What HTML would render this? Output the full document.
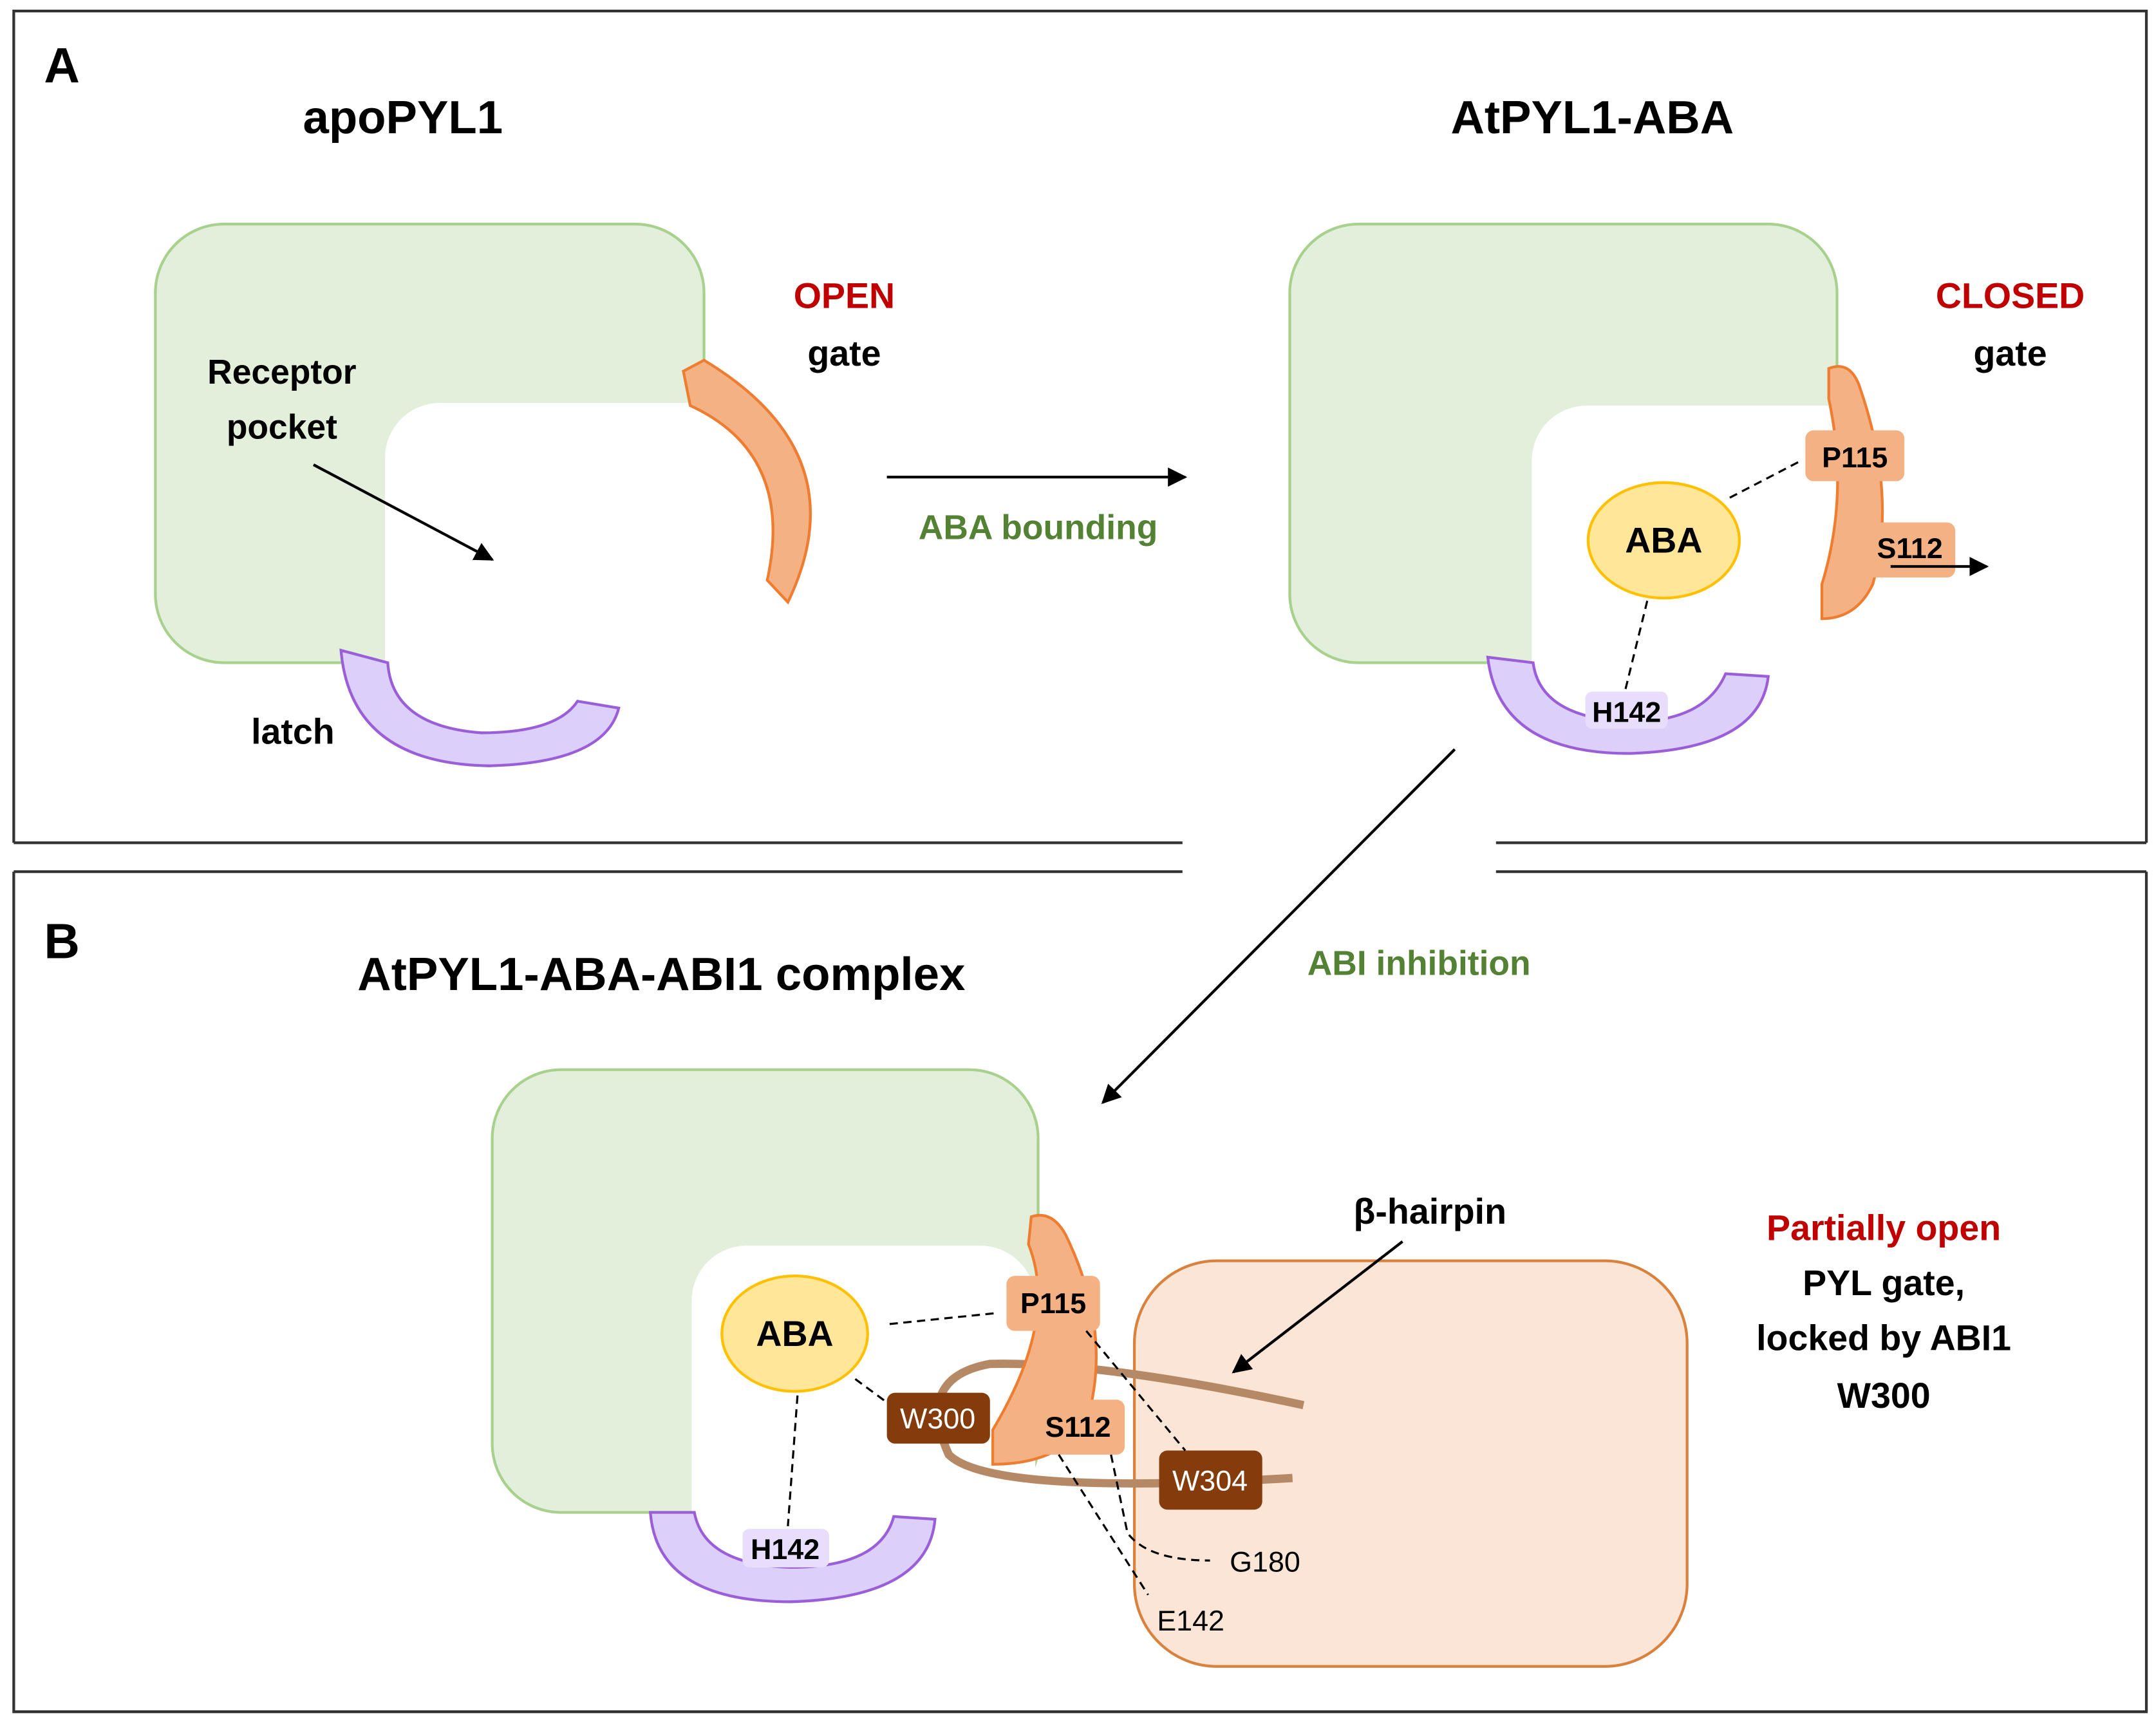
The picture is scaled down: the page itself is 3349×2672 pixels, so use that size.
<!DOCTYPE html>
<html><head><meta charset="utf-8"><style>html,body{margin:0;padding:0;background:#fff}svg{display:block}text{font-family:"Liberation Sans",sans-serif}.b{font-weight:bold}</style></head><body>
<svg width="3349" height="2672" viewBox="0 0 1568 1251" preserveAspectRatio="none" xmlns="http://www.w3.org/2000/svg">
<defs><marker id="ar" viewBox="0 0 10 10" refX="9" refY="5" markerWidth="7" markerHeight="7" orient="auto"><path d="M0,0 L10,5 L0,10 z" fill="#000"/></marker></defs>
<g stroke="#333" stroke-width="2" fill="none">
<path d="M10,613 V8 H1561 V613 M10,613 H860 M1088,613 H1561"/>
<path d="M10,634 V1245 H1561 V634 M10,634 H860 M1088,634 H1561"/>
</g>
<g class="b">
<rect x="113" y="163" width="399" height="319" rx="50" fill="#e2efda" stroke="#a9d18e" stroke-width="2"/>
<rect x="280" y="293" width="300" height="290" rx="40" fill="#fff"/>
<path d="M497,270 L512,262 Q625,330 573,438 L558,422 Q578,330 502,295 Z" fill="#f4b183" stroke="#ed7d31" stroke-width="2"/>
<path d="M248,473 Q255,555 355,557 Q440,555 450,515 L420,510 Q405,533 350,533 Q285,528 282,482 Z" fill="#dcd0fa" stroke="#9a5fd8" stroke-width="2"/>
<text x="45" y="60" font-size="36" text-anchor="middle">A</text>
<text x="293" y="97" font-size="34" text-anchor="middle">apoPYL1</text>
<text x="205" y="279" font-size="25" text-anchor="middle">Receptor</text>
<text x="205" y="319" font-size="25" text-anchor="middle">pocket</text>
<line x1="228" y1="338" x2="358" y2="407" stroke="#000" stroke-width="2" marker-end="url(#ar)"/>
<text x="614" y="224" font-size="26" text-anchor="middle" fill="#c00000">OPEN</text>
<text x="614" y="266" font-size="26" text-anchor="middle">gate</text>
<text x="213" y="541" font-size="26" text-anchor="middle">latch</text>
<line x1="645" y1="347" x2="862" y2="347" stroke="#000" stroke-width="2" marker-end="url(#ar)"/>
<text x="755" y="392" font-size="25" text-anchor="middle" fill="#548235">ABA bounding</text>
<rect x="938" y="163" width="398" height="319" rx="50" fill="#e2efda" stroke="#a9d18e" stroke-width="2"/>
<rect x="1114" y="295" width="300" height="290" rx="40" fill="#fff"/>
<path d="M1330,268 Q1345,262 1352,280 Q1380,360 1362,425 Q1350,450 1325,450 L1325,425 Q1345,360 1330,290 Z" fill="#f4b183" stroke="#ed7d31" stroke-width="2"/>
<rect x="1313" y="313" width="72" height="37" rx="6" fill="#f4b183"/>
<text x="1349" y="340" font-size="21" text-anchor="middle">P115</text>
<rect x="1357" y="380" width="65" height="40" rx="6" fill="#f4b183"/>
<text x="1389" y="406" font-size="21" text-anchor="middle">S112</text>
<line x1="1375" y1="412" x2="1445" y2="412" stroke="#000" stroke-width="2" marker-end="url(#ar)"/>
<line x1="1258" y1="362" x2="1310" y2="335" stroke="#000" stroke-width="1.5" stroke-dasharray="6,4"/>
<ellipse cx="1210" cy="393" rx="55" ry="42" fill="#ffe699" stroke="#ffc000" stroke-width="2"/>
<text x="1210" y="402" font-size="26" text-anchor="middle">ABA</text>
<line x1="1198" y1="437" x2="1182" y2="502" stroke="#000" stroke-width="1.5" stroke-dasharray="6,4"/>
<path d="M1082,478 Q1090,548 1185,548 Q1280,545 1286,492 L1255,490 Q1240,525 1185,525 Q1120,522 1115,482 Z" fill="#dcd0fa" stroke="#9a5fd8" stroke-width="2"/>
<rect x="1153" y="503" width="60" height="27" rx="5" fill="#e8defc"/>
<text x="1183" y="525" font-size="21" text-anchor="middle">H142</text>
<text x="1158" y="97" font-size="34" text-anchor="middle">AtPYL1-ABA</text>
<text x="1462" y="224" font-size="26" text-anchor="middle" fill="#c00000">CLOSED</text>
<text x="1462" y="266" font-size="26" text-anchor="middle">gate</text>
<line x1="1058" y1="545" x2="802" y2="802" stroke="#000" stroke-width="2" marker-end="url(#ar)"/>
<text x="1032" y="709" font-size="25" text-anchor="middle" fill="#548235">ABI inhibition</text>
<text x="45" y="697" font-size="36" text-anchor="middle">B</text>
<text x="481" y="720" font-size="34" text-anchor="middle">AtPYL1-ABA-ABI1 complex</text>
<rect x="825" y="917" width="402" height="295" rx="60" fill="#fbe5d6" stroke="#d9823e" stroke-width="2"/>
<rect x="358" y="778" width="397" height="322" rx="50" fill="#e2efda" stroke="#a9d18e" stroke-width="2"/>
<rect x="503" y="906" width="250" height="250" rx="40" fill="#fff"/>
<path d="M948,1022 Q800,990 720,992 Q665,1002 690,1058 Q720,1088 940,1075" fill="none" stroke="#b58966" stroke-width="6"/>
<path d="M750,885 Q765,880 775,898 Q810,970 790,1035 Q770,1065 722,1065 L722,1040 Q770,960 748,905 Z" fill="#f4b183" stroke="#ed7d31" stroke-width="2"/>
<rect x="732" y="928" width="68" height="40" rx="6" fill="#f4b183"/>
<text x="766" y="955" font-size="21" text-anchor="middle">P115</text>
<rect x="750" y="1018" width="68" height="40" rx="6" fill="#f4b183"/>
<text x="784" y="1045" font-size="21" text-anchor="middle">S112</text>
<rect x="645" y="1013" width="75" height="37" rx="6" fill="#843c0c"/>
<rect x="843" y="1055" width="75" height="43" rx="6" fill="#843c0c"/>
<ellipse cx="578" cy="970" rx="53" ry="42" fill="#ffe699" stroke="#ffc000" stroke-width="2"/>
<text x="578" y="979" font-size="26" text-anchor="middle">ABA</text>
<path d="M473,1100 Q478,1165 575,1165 Q675,1162 680,1105 L650,1103 Q640,1140 575,1140 Q512,1138 505,1100 Z" fill="#dcd0fa" stroke="#9a5fd8" stroke-width="2"/>
<rect x="540" y="1112" width="63" height="28" rx="5" fill="#e8defc"/>
<text x="571" y="1134" font-size="21" text-anchor="middle">H142</text>
<text x="1040" y="890" font-size="26" text-anchor="middle">β-hairpin</text>
<text x="1370" y="902" font-size="26" text-anchor="middle" fill="#c00000">Partially open</text>
<text x="1370" y="942" font-size="26" text-anchor="middle">PYL gate,</text>
<text x="1370" y="982" font-size="26" text-anchor="middle">locked by ABI1</text>
<text x="1370" y="1024" font-size="26" text-anchor="middle">W300</text>
</g>
<text x="682" y="1039" font-size="21" text-anchor="middle" fill="#fff">W300</text>
<text x="880" y="1084" font-size="21" text-anchor="middle" fill="#fff">W304</text>
<g stroke="#000" stroke-width="1.5" stroke-dasharray="6,4" fill="none">
<line x1="647" y1="963" x2="725" y2="955"/>
<line x1="622" y1="1003" x2="645" y2="1020"/>
<line x1="580" y1="1015" x2="573" y2="1110"/>
<line x1="790" y1="968" x2="862" y2="1055"/>
<line x1="770" y1="1058" x2="835" y2="1160"/>
<path d="M808,1058 L820,1115 Q835,1135 880,1135"/>
</g>
<line x1="1020" y1="903" x2="897" y2="998" stroke="#000" stroke-width="2" marker-end="url(#ar)"/>
<text x="920" y="1143" font-size="21" text-anchor="middle">G180</text>
<text x="866" y="1186" font-size="21" text-anchor="middle">E142</text>
</svg>
</body></html>
